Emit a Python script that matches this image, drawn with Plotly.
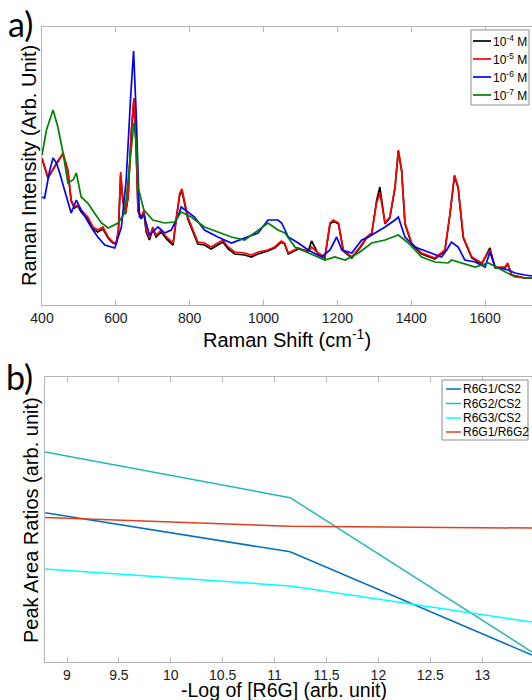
import plotly.graph_objects as go

# ---------------- Panel a: Raman spectra ----------------
wn_red = [400, 416, 443, 457, 470, 475, 479, 488, 497, 506, 524, 538, 551, 565, 579, 592, 601, 607, 613, 619,
          626, 633, 642, 649, 655, 660, 669, 676, 682, 691, 700, 709, 723, 737, 746, 755, 764, 773, 779, 786,
          795, 809, 822, 840, 858, 876, 890, 904, 922, 949, 967, 985, 1012, 1030, 1048, 1057, 1067, 1094, 1121,
          1130, 1148, 1166, 1180, 1189, 1203, 1216, 1239, 1261, 1279, 1293, 1306, 1315, 1329, 1342, 1356, 1365,
          1374, 1383, 1401, 1428, 1464, 1491, 1505, 1517, 1527, 1541, 1564, 1591, 1613, 1627, 1654, 1661, 1672,
          1708, 1727]
int_red = [147, 128, 143, 152, 135, 118, 105, 98, 100, 95, 88, 78, 75, 78, 68, 63, 62, 75, 133, 105,
           92, 108, 175, 207, 158, 95, 88, 95, 75, 67, 78, 70, 75, 68, 65, 62, 88, 112, 116, 105,
           88, 75, 63, 62, 58, 62, 65, 58, 53, 52, 50, 53, 55, 58, 64, 62, 52, 57, 53,
           58, 52, 48, 82, 85, 82, 55, 48, 58, 68, 72, 102, 112, 82, 88, 118, 155,
           135, 82, 62, 52, 47, 55, 92, 130, 118, 68, 48, 42, 55, 38, 38, 42, 30,
           27, 27]

wn_black = wn_red
int_black = [146, 127, 144, 151, 134, 117, 104, 97, 99, 93, 86, 76, 73, 76, 67, 62, 61, 74, 130, 104,
             91, 107, 173, 205, 156, 94, 86, 93, 73, 65, 76, 68, 73, 66, 63, 60, 87, 110, 114, 103,
             86, 73, 61, 60, 56, 60, 63, 56, 51, 50, 48, 51, 54, 57, 63, 61, 51, 56, 54,
             64, 51, 47, 81, 84, 81, 54, 47, 57, 67, 71, 104, 118, 81, 87, 117, 154,
             134, 81, 61, 51, 46, 54, 91, 129, 117, 67, 47, 41, 57, 37, 37, 41, 30,
             27, 27]

wn_blue = [400, 407, 421, 430, 439, 448, 461, 475, 479, 493, 506, 533, 551, 570, 597, 615, 628, 640, 648, 655,
           660, 664, 676, 691, 714, 732, 750, 768, 777, 795, 813, 840, 876, 913, 949, 985, 1012, 1039, 1049,
           1067, 1094, 1121, 1157, 1180, 1198, 1212, 1239, 1266, 1284, 1302, 1329, 1356, 1365, 1383, 1410,
           1446, 1482, 1496, 1509, 1527, 1545, 1573, 1600, 1613, 1627, 1663, 1681, 1708, 1727]
int_blue = [108, 107, 135, 147, 142, 132, 115, 98, 92, 105, 95, 78, 68, 60, 57, 78, 125, 208, 254, 192,
            142, 88, 90, 70, 78, 72, 75, 88, 98, 93, 88, 75, 68, 62, 67, 72, 85, 85, 82,
            68, 62, 55, 48, 55, 68, 55, 52, 65, 68, 72, 78, 85, 88, 68, 58,
            53, 48, 55, 63, 58, 45, 43, 38, 53, 38, 35, 32, 30, 29]

wn_green = [400, 412, 430, 443, 457, 470, 484, 493, 506, 524, 542, 561, 579, 606, 624, 642, 649, 655, 660, 676,
            700, 732, 759, 777, 804, 840, 876, 913, 949, 985, 1012, 1039, 1058, 1085, 1121, 1166, 1193, 1221,
            1257, 1293, 1329, 1365, 1392, 1428, 1464, 1500, 1509, 1537, 1573, 1609, 1645, 1681, 1708, 1727]
int_green = [150, 175, 195, 178, 152, 122, 125, 132, 108, 102, 92, 82, 77, 82, 92, 158, 182, 165, 118, 95,
             85, 82, 83, 93, 88, 78, 73, 68, 65, 75, 82, 75, 72, 58, 52, 45, 48, 45,
             52, 62, 65, 70, 62, 48, 43, 42, 45, 42, 38, 42, 35, 28, 27, 27]

series_a = [
    ("10<sup>-4</sup> M", wn_black, int_black, "#000000"),
    ("10<sup>-5</sup> M", wn_red, int_red, "#ff0000"),
    ("10<sup>-6</sup> M", wn_blue, int_blue, "#0000ff"),
    ("10<sup>-7</sup> M", wn_green, int_green, "#008000"),
]
ticks_a = [400, 600, 800, 1000, 1200, 1400, 1600]

# ---------------- Panel b: peak area ratios ----------------
log_conc = [8.79, 11.15, 13.48]
r6g1_cs2 = [1.57, 1.16, 0.074]
r6g2_cs2 = [2.21, 1.73, 0.105]
r6g3_cs2 = [0.98, 0.80, 0.42]
r6g1_r6g2 = [1.52, 1.43, 1.41]

series_b = [
    ("R6G1/CS2", r6g1_cs2, "#0072BD"),
    ("R6G2/CS2", r6g2_cs2, "#22B8B8"),
    ("R6G3/CS2", r6g3_cs2, "#00FFFF"),
    ("R6G1/R6G2", r6g1_r6g2, "#E0401F"),
]
ticks_b = [9, 9.5, 10, 10.5, 11, 11.5, 12, 12.5, 13]
ticktext_b = ["9", "9.5", "10", "10.5", "11", "11.5", "12", "12.5", "13"]

W, H = 532, 700
FONT = "Liberation Sans, Arial, sans-serif"

def px(x):
    return x / W

def py(y):
    return 1 - y / H

fig = go.Figure()
for name, xs, ys, col in series_a:
    fig.add_trace(go.Scatter(x=xs, y=ys, mode="lines", name=name, showlegend=False,
                             line=dict(color=col, width=1.7), xaxis="x", yaxis="y"))
for name, ys, col in series_b:
    fig.add_trace(go.Scatter(x=log_conc, y=ys, mode="lines", name=name, showlegend=False,
                             line=dict(color=col, width=1.5), xaxis="x2", yaxis="y2"))

axcol = "#b4b4b4"
common_x = dict(showline=True, linecolor=axcol, linewidth=1, mirror="ticks", ticks="inside",
                ticklen=5, tickcolor=axcol, showgrid=False, zeroline=False, automargin=False,
                tickfont=dict(family=FONT, size=14, color="#1a1a1a"))
common_y = dict(showline=True, linecolor=axcol, linewidth=1, mirror=False, ticks="",
                showticklabels=False, showgrid=False, zeroline=False, automargin=False)

fig.update_layout(
    width=W, height=H, margin=dict(l=0, r=0, t=0, b=0, autoexpand=False),
    paper_bgcolor="white", plot_bgcolor="white", showlegend=False,
    xaxis=dict(domain=[px(42), 1], range=[400, 1727], tickvals=ticks_a, anchor="y", **common_x),
    yaxis=dict(domain=[py(305), py(27)], range=[0, 278], anchor="x", **common_y),
    xaxis2=dict(domain=[px(45), 1], range=[8.788, 13.48], tickvals=ticks_b, ticktext=ticktext_b,
                anchor="y2", **common_x),
    yaxis2=dict(domain=[py(662), py(377)], range=[0, 3], anchor="x2", **common_y),
)

shapes = []
annotations = []

title_font = dict(family=FONT, size=20, color="black")
# axis titles
annotations.append(dict(x=px(287), y=py(339), xref="paper", yref="paper", text="Raman Shift (cm<sup>-1</sup>)",
                        showarrow=False, xanchor="center", yanchor="middle", font=title_font))
annotations.append(dict(x=px(29), y=py(166), xref="paper", yref="paper", text="Raman Intensity (Arb. Unit)",
                        showarrow=False, xanchor="center", yanchor="middle", textangle=-90, font=title_font))
annotations.append(dict(x=px(284), y=py(690), xref="paper", yref="paper", text="-Log of [R6G] (arb. unit)",
                        showarrow=False, xanchor="center", yanchor="middle",
                        font=dict(family=FONT, size=19.5, color="black")))
annotations.append(dict(x=px(31), y=py(520), xref="paper", yref="paper", text="Peak Area Ratios (arb. unit)",
                        showarrow=False, xanchor="center", yanchor="middle", textangle=-90, font=title_font))

# panel labels
annotations.append(dict(x=px(20), y=py(24), xref="paper", yref="paper", text="a)", showarrow=False,
                        font=dict(family="Lato, sans-serif", size=34, color="black"),
                        xanchor="center", yanchor="middle"))
annotations.append(dict(x=px(19), y=py(376), xref="paper", yref="paper", text="b)", showarrow=False,
                        font=dict(family="Lato, sans-serif", size=34, color="black"),
                        xanchor="center", yanchor="middle"))

# legend a
shapes.append(dict(type="rect", xref="paper", yref="paper", x0=px(471), x1=px(529), y0=py(105), y1=py(30),
                   line=dict(color="#8c8c8c", width=1), fillcolor="white", layer="above"))
leg_a_y = [41, 59, 77, 95]
for (name, _, _, col), yy in zip(series_a, leg_a_y):
    shapes.append(dict(type="line", xref="paper", yref="paper", x0=px(473), x1=px(491), y0=py(yy), y1=py(yy),
                       line=dict(color=col, width=1.7), layer="above"))
    annotations.append(dict(x=px(491), y=py(yy), xref="paper", yref="paper", text=name, showarrow=False,
                            xanchor="left", yanchor="middle",
                            font=dict(family=FONT, size=12, color="black")))

# legend b
shapes.append(dict(type="rect", xref="paper", yref="paper", x0=px(442), x1=px(528), y0=py(440), y1=py(380),
                   line=dict(color="#8c8c8c", width=1), fillcolor="white", layer="above"))
leg_b_y = [389, 403.5, 418, 432]
for (name, _, col), yy in zip(series_b, leg_b_y):
    shapes.append(dict(type="line", xref="paper", yref="paper", x0=px(446), x1=px(461), y0=py(yy), y1=py(yy),
                       line=dict(color=col, width=1.5), layer="above"))
    annotations.append(dict(x=px(461), y=py(yy), xref="paper", yref="paper", text=name, showarrow=False,
                            xanchor="left", yanchor="middle",
                            font=dict(family=FONT, size=12, color="black")))

fig.update_layout(shapes=shapes, annotations=annotations)
fig.write_html("out.html", config={"displayModeBar": False},
               post_script="document.body.style.margin='0';document.body.style.overflow='hidden';")
